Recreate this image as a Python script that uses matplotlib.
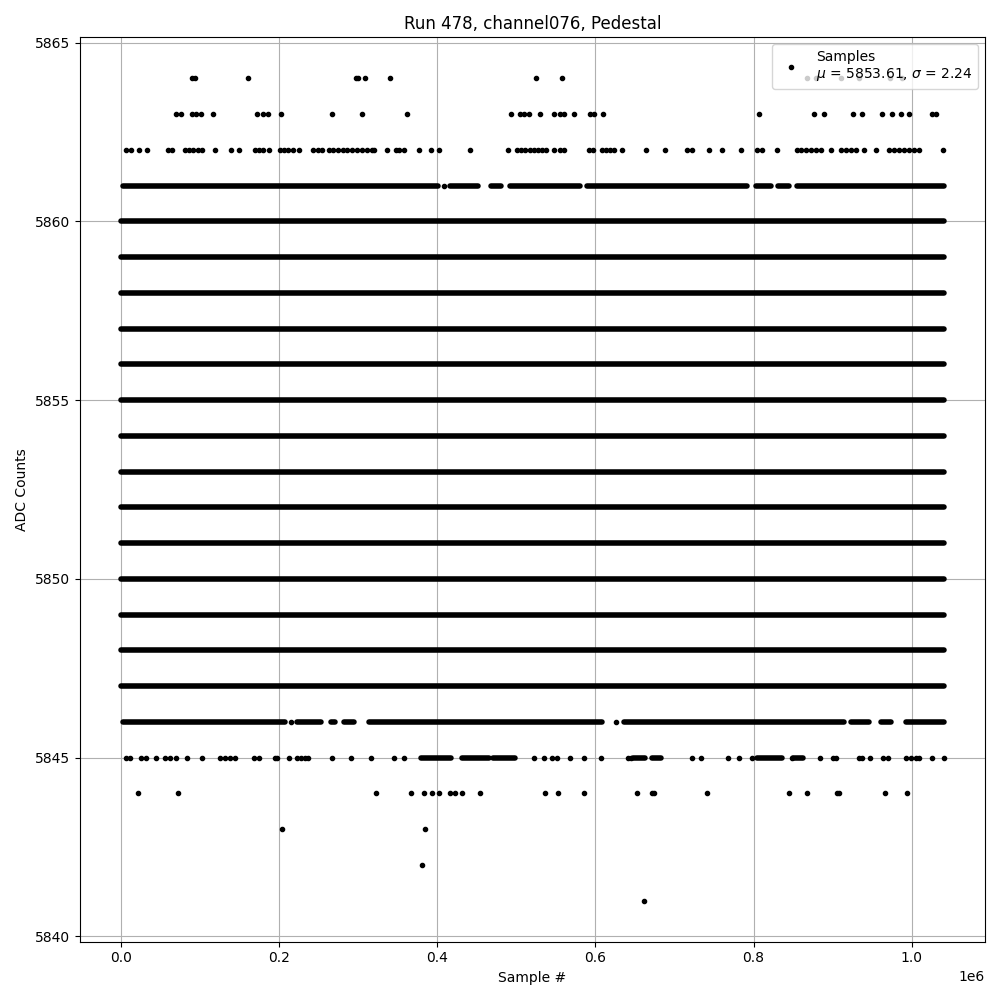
import numpy as np
import matplotlib
matplotlib.use('Agg')
import matplotlib.pyplot as plt

# all x values in thousands of samples
last_sample_k = 1040.5

# ADC levels that are hit all the time -> one solid run from first to last sample
full_levels = [5847, 5848, 5849, 5850, 5851, 5852, 5853, 5854,
               5855, 5856, 5857, 5858, 5859, 5860]

# levels that are hit often, but with gaps: (start, end) runs
runs_5861 = [(2.5, 401.3), (416.4, 451.9), (468.3, 481.0), (492.4, 581.0),
             (589.9, 791.1), (802.5, 821.5), (830.4, 844.3), (854.4, 1040.5)]
runs_5846 = [(3.4, 207.2), (222.8, 252.8), (266.2, 270.5), (281.9, 294.9),
             (313.5, 608.0), (636.3, 913.9), (923.1, 945.5), (961.1, 974.3),
             (992.8, 1040.5)]
runs_5845 = [(379.7, 417.7), (431.6, 466.0), (471.0, 498.7), (648.0, 663.0),
             (671.0, 683.5), (804.0, 836.0), (850.0, 863.0)]

# single samples on the rare levels
pts_5864 = [89.9, 93.7, 161.1, 297.0, 299.5, 309.2, 340.9, 524.4, 558.2,
            868.0, 878.8, 910.1, 933.3, 972.5, 988.2]
pts_5863 = [69.6, 75.9, 90.3, 95.8, 100.9, 116.8, 172.5, 180.1, 186.5, 202.9,
            267.5, 305.4, 361.6, 492.8, 504.2, 509.2, 515.6, 529.9, 547.2,
            555.7, 559.9, 573.4, 593.7, 597.8, 609.7, 806.7, 876.3, 889.0,
            925.7, 936.7, 962.9, 975.5, 986.1, 996.6, 1024.9, 1030.4]
pts_5862 = [7.2, 13.5, 23.2, 33.8, 59.9, 64.9, 81.0, 86.5, 91.5, 97.1, 102.2,
            119.4, 139.2, 149.7, 169.6, 175.1, 180.1, 187.7, 201.3, 206.3,
            211.8, 217.3, 225.7, 243.4, 249.7, 254.0, 263.7, 268.7, 275.1,
            280.6, 285.7, 292.0, 298.3, 304.7, 311.0, 317.3, 320.6, 336.3,
            347.7, 352.3, 358.2, 377.6, 392.8, 402.9, 442.1, 490.2, 500.9,
            505.9, 511.4, 516.8, 521.9, 526.9, 532.5, 538.0, 547.2, 555.7,
            559.9, 591.5, 597.1, 608.5, 613.9, 619.0, 624.0, 633.8, 663.7,
            687.7, 716.1, 722.4, 743.4, 760.4, 783.5, 803.8, 811.0, 829.1,
            854.4, 859.5, 865.8, 872.1, 878.5, 884.8, 898.3, 910.1, 916.4,
            922.8, 929.1, 939.6, 954.8, 971.3, 977.6, 983.9, 990.2, 996.6,
            1002.9, 1009.2, 1039.6]
pts_5861 = [408.2]
pts_5846 = [214.8, 625.7]
pts_5845 = [6.3, 11.4, 25.3, 31.6, 44.3, 55.7, 62.0, 69.6, 83.9, 103.4, 125.3,
            131.6, 138.0, 144.3, 169.0, 174.7, 194.9, 197.5, 213.0, 222.8,
            227.8, 232.9, 236.7, 267.5, 290.8, 316.5, 345.6, 358.2, 522.8,
            535.4, 545.6, 551.3, 567.5, 585.2, 607.2, 641.0, 645.0, 722.0,
            733.8, 767.5, 781.0, 798.0, 848.0, 884.0, 900.0, 903.8, 932.9,
            936.7, 947.2, 963.3, 969.6, 992.4, 998.7, 1005.0, 1008.8, 1024.9,
            1040.5]
pts_5844 = [21.4, 72.9, 323.3, 366.6, 383.7, 393.9, 402.3, 415.9, 422.8, 431.0,
            453.7, 535.9, 553.2, 586.1, 652.6, 671.1, 674.5, 740.5, 844.7,
            867.3, 905.0, 908.5, 966.2, 994.3]
pts_5843 = [203.3, 385.1]
pts_5842 = [380.3]
pts_5841 = [661.5]

run_no = 478
channel = "channel076"
mu, sigma = 5853.61, 2.24

runs = {5861: runs_5861, 5846: runs_5846, 5845: runs_5845}
for lev in full_levels:
    runs[lev] = [(0.0, last_sample_k)]

singles = {5864: pts_5864, 5863: pts_5863, 5862: pts_5862, 5861: pts_5861,
           5846: pts_5846, 5845: pts_5845, 5844: pts_5844, 5843: pts_5843,
           5842: pts_5842, 5841: pts_5841}

fig, ax = plt.subplots(figsize=(10, 10))

# dense stretches: touching dots look like a thick round-capped line
for lev, rr in runs.items():
    for a, b in rr:
        ax.plot([a * 1000, b * 1000], [lev, lev], color='k', lw=4,
                solid_capstyle='round')

xs = np.concatenate([np.array(v) * 1000 for v in singles.values()])
ys = np.concatenate([np.full(len(v), k) for k, v in singles.items()])
ax.plot(xs, ys, 'k.', ms=6,
        label="Samples\n$\\mu$ = %.2f, $\\sigma$ = %.2f" % (mu, sigma))

ax.set_title("Run %d, %s, Pedestal" % (run_no, channel))
ax.set_xlabel("Sample #")
ax.set_ylabel("ADC Counts")
ax.grid(True)
ax.legend(loc='upper right')

fig.tight_layout()
fig.savefig('out.png', dpi=100)
